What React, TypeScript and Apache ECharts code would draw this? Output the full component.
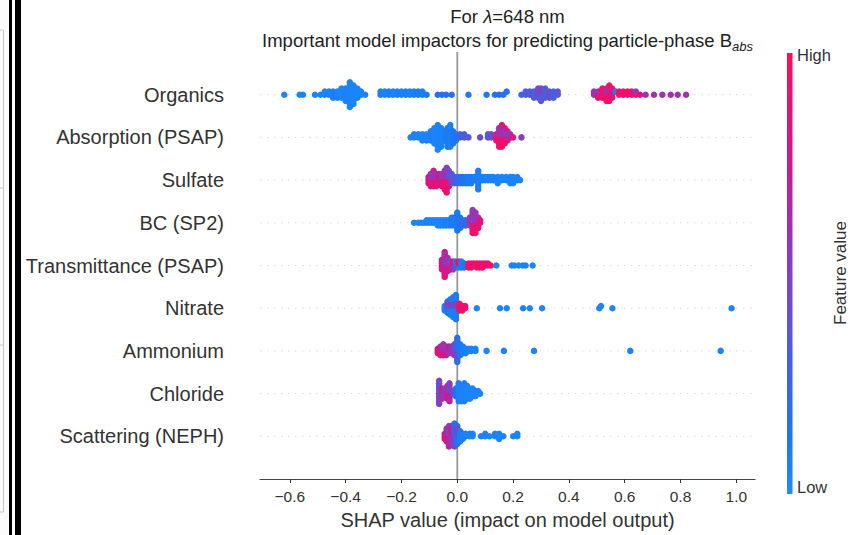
import { useEffect, useRef } from 'react';
import * as echarts from 'echarts';

// Feature names, top to bottom
const features = [
  'Organics',
  'Absorption (PSAP)',
  'Sulfate',
  'BC (SP2)',
  'Transmittance (PSAP)',
  'Nitrate',
  'Ammonium',
  'Chloride',
  'Scattering (NEPH)',
];

// Each entry: [SHAP value, normalised feature value (0 = low, 1 = high), number of points read at that spot]
const organics: number[][] = [
  [-0.62, 0.05, 1], [-0.565, 0.05, 1], [-0.553, 0.05, 1], [-0.51, 0.05, 1], [-0.49, 0.05, 1],
  [-0.475, 0.05, 2], [-0.46, 0.05, 2], [-0.445, 0.08, 3], [-0.43, 0.05, 3], [-0.415, 0.05, 4],
  [-0.4, 0.06, 5], [-0.385, 0.05, 9], [-0.372, 0.05, 7], [-0.358, 0.05, 4], [-0.345, 0.05, 2], [-0.33, 0.05, 1],
  [-0.275, 0.08, 2], [-0.26, 0.06, 2], [-0.245, 0.08, 2], [-0.23, 0.06, 2], [-0.215, 0.08, 2], [-0.2, 0.06, 2],
  [-0.185, 0.08, 2], [-0.17, 0.06, 2], [-0.155, 0.08, 2], [-0.14, 0.1, 2], [-0.125, 0.08, 2], [-0.11, 0.1, 1],
  [-0.07, 0.15, 1], [-0.055, 0.18, 1], [-0.04, 0.15, 1], [-0.02, 0.18, 1],
  [0.04, 0.12, 1], [0.105, 0.12, 1], [0.135, 0.15, 1], [0.15, 0.2, 1], [0.165, 0.15, 1], [0.177, 0.18, 1],
  [0.23, 0.25, 1], [0.245, 0.3, 2], [0.26, 0.35, 2], [0.275, 0.3, 3], [0.29, 0.4, 4], [0.3, 0.35, 3], [0.3, 0.5, 2],
  [0.315, 0.3, 4], [0.33, 0.4, 3], [0.345, 0.3, 3], [0.36, 0.35, 2],
  [0.49, 0.6, 2], [0.505, 0.9, 2], [0.505, 0.6, 1], [0.52, 0.95, 4], [0.535, 0.95, 3], [0.535, 0.6, 2],
  [0.545, 0.95, 5], [0.545, 0.7, 1], [0.555, 0.9, 3], [0.568, 0.1, 1], [0.58, 0.95, 2], [0.595, 0.9, 2],
  [0.61, 0.95, 2], [0.625, 0.85, 2], [0.64, 0.95, 1], [0.64, 0.6, 1], [0.655, 0.9, 1], [0.675, 0.6, 1],
  [0.705, 0.6, 1], [0.735, 0.6, 1], [0.765, 0.62, 1], [0.79, 0.6, 1], [0.82, 0.6, 1],
];

const absorption: number[][] = [
  [-0.167, 0.05, 1], [-0.155, 0.05, 2], [-0.14, 0.05, 2], [-0.125, 0.05, 3], [-0.11, 0.05, 3], [-0.095, 0.06, 4],
  [-0.082, 0.05, 6], [-0.07, 0.05, 9], [-0.058, 0.06, 7], [-0.045, 0.08, 4], [-0.035, 0.1, 7], [-0.025, 0.08, 8],
  [-0.015, 0.12, 5], [-0.005, 0.15, 3],
  [0.01, 0.3, 2], [0.025, 0.3, 2], [0.04, 0.35, 1], [0.082, 0.4, 1], [0.11, 0.35, 2], [0.122, 0.4, 2],
  [0.14, 0.9, 3], [0.15, 0.95, 4], [0.15, 0.6, 3], [0.16, 0.9, 5], [0.16, 0.6, 3], [0.17, 0.95, 4], [0.17, 0.55, 2],
  [0.18, 0.85, 3], [0.18, 0.5, 1], [0.19, 0.6, 2], [0.2, 0.9, 1], [0.23, 0.5, 1],
];

const sulfate: number[][] = [
  [-0.103, 0.75, 3], [-0.095, 0.9, 3], [-0.095, 0.6, 2], [-0.085, 0.85, 4], [-0.085, 0.55, 2], [-0.075, 0.9, 3],
  [-0.075, 0.6, 2], [-0.065, 0.8, 4], [-0.055, 0.85, 3], [-0.055, 0.55, 2], [-0.045, 0.9, 4], [-0.045, 0.6, 3],
  [-0.038, 0.95, 5], [-0.038, 0.55, 4], [-0.03, 0.85, 3], [-0.03, 0.45, 3], [-0.02, 0.5, 2], [-0.02, 0.3, 2],
  [-0.01, 0.35, 3],
  [0.0, 0.25, 3], [0.01, 0.2, 3], [0.02, 0.15, 3], [0.03, 0.12, 3], [0.04, 0.1, 3], [0.05, 0.1, 3], [0.06, 0.1, 2],
  [0.075, 0.08, 7], [0.09, 0.08, 2], [0.1, 0.08, 2], [0.11, 0.06, 2], [0.12, 0.06, 2], [0.13, 0.06, 2],
  [0.145, 0.05, 3], [0.16, 0.05, 2], [0.175, 0.05, 2], [0.19, 0.05, 3], [0.2, 0.05, 3], [0.215, 0.05, 2], [0.225, 0.05, 1],
];

const bcSp2: number[][] = [
  [-0.155, 0.05, 1], [-0.14, 0.05, 1], [-0.13, 0.05, 1], [-0.12, 0.05, 1], [-0.11, 0.05, 2], [-0.1, 0.05, 2],
  [-0.09, 0.05, 2], [-0.08, 0.05, 2], [-0.07, 0.05, 3], [-0.06, 0.06, 3], [-0.05, 0.05, 3], [-0.04, 0.08, 3],
  [-0.03, 0.06, 3], [-0.02, 0.1, 4], [-0.01, 0.1, 4], [0.0, 0.12, 8], [0.01, 0.15, 5], [0.02, 0.2, 3], [0.03, 0.25, 3],
  [0.045, 0.5, 4], [0.055, 0.9, 5], [0.055, 0.55, 5], [0.065, 0.95, 5], [0.065, 0.6, 4], [0.075, 0.85, 3],
  [0.075, 0.55, 2], [0.082, 0.9, 2],
];

const transmittance: number[][] = [
  [-0.055, 0.8, 6], [-0.045, 0.85, 8], [-0.045, 0.6, 6], [-0.035, 0.75, 5], [-0.035, 0.55, 3], [-0.025, 0.9, 3],
  [-0.025, 0.5, 2], [-0.015, 0.55, 3], [-0.015, 0.9, 2], [-0.005, 0.4, 2], [-0.005, 0.15, 2], [0.005, 0.1, 2],
  [0.005, 0.9, 2], [0.015, 0.1, 4], [0.025, 0.12, 3], [0.04, 0.95, 3], [0.05, 0.95, 3], [0.06, 0.9, 2],
  [0.07, 0.95, 3], [0.08, 0.95, 3], [0.09, 0.9, 3], [0.1, 0.95, 2], [0.11, 0.9, 2], [0.12, 0.95, 1],
  [0.14, 0.05, 1], [0.195, 0.05, 1], [0.205, 0.05, 1], [0.22, 0.05, 1], [0.235, 0.05, 1], [0.245, 0.05, 1], [0.27, 0.05, 1],
];

const nitrate: number[][] = [
  [-0.045, 0.1, 3], [-0.035, 0.15, 4], [-0.035, 0.45, 2], [-0.025, 0.1, 6], [-0.025, 0.5, 2], [-0.015, 0.08, 8],
  [-0.015, 0.4, 2], [-0.005, 0.1, 10], [-0.005, 0.5, 2], [0.008, 0.9, 4], [0.018, 0.95, 3], [0.028, 0.9, 2],
  [0.07, 0.05, 1], [0.153, 0.05, 1], [0.177, 0.05, 1], [0.236, 0.05, 1], [0.26, 0.05, 1], [0.304, 0.05, 1],
  [0.509, 0.05, 1], [0.515, 0.05, 1], [0.556, 0.05, 1], [0.983, 0.05, 1],
];

const ammonium: number[][] = [
  [-0.07, 0.85, 3], [-0.06, 0.9, 3], [-0.06, 0.7, 2], [-0.05, 0.85, 3], [-0.05, 0.6, 3], [-0.04, 0.75, 3],
  [-0.04, 0.55, 2], [-0.03, 0.6, 2], [-0.03, 0.8, 2], [-0.02, 0.55, 4], [-0.01, 0.5, 4], [-0.01, 0.35, 2],
  [0.0, 0.45, 5], [0.0, 0.2, 7], [0.01, 0.12, 6], [0.02, 0.1, 4], [0.03, 0.08, 3], [0.04, 0.06, 2], [0.05, 0.05, 2],
  [0.065, 0.05, 2], [0.105, 0.05, 1], [0.167, 0.05, 1], [0.275, 0.05, 1], [0.62, 0.05, 1], [0.944, 0.05, 1],
];

const chloride: number[][] = [
  [-0.065, 0.5, 6], [-0.065, 0.4, 4], [-0.055, 0.6, 3], [-0.055, 0.75, 2], [-0.045, 0.55, 4], [-0.035, 0.85, 4],
  [-0.035, 0.6, 2], [-0.028, 0.7, 4], [-0.028, 0.5, 4], [-0.015, 0.45, 2], [-0.005, 0.15, 4], [0.005, 0.08, 8],
  [0.015, 0.06, 7], [0.025, 0.06, 8], [0.035, 0.05, 6], [0.045, 0.05, 5], [0.055, 0.05, 4], [0.065, 0.05, 3],
  [0.075, 0.05, 2], [0.082, 0.05, 1],
];

const scattering: number[][] = [
  [-0.045, 0.9, 3], [-0.038, 0.85, 4], [-0.038, 0.6, 2], [-0.03, 0.7, 5], [-0.03, 0.5, 4], [-0.02, 0.55, 5],
  [-0.02, 0.8, 3], [-0.01, 0.45, 5], [-0.01, 0.2, 5], [0.0, 0.15, 5], [0.0, 0.45, 3], [0.01, 0.1, 5],
  [0.02, 0.08, 3], [0.03, 0.06, 2], [0.045, 0.05, 2], [0.055, 0.05, 2], [0.085, 0.05, 1], [0.1, 0.05, 2],
  [0.115, 0.05, 1], [0.135, 0.05, 2], [0.15, 0.05, 3], [0.165, 0.05, 1], [0.2, 0.05, 1], [0.215, 0.05, 2],
];

const featureData = [organics, absorption, sulfate, bcSp2, transmittance, nitrate, ammonium, chloride, scattering];

const xTicks = [-0.6, -0.4, -0.2, 0.0, 0.2, 0.4, 0.6, 0.8, 1.0];
const xMin = -0.707;
const xMax = 1.067;

// low -> high
const cmap = ['#1e8cff', '#1a78f2', '#3a66e4', '#5e54d4', '#8540c2', '#a52dae', '#c41c95', '#e4127a', '#ff0d57'];

const FONT = '"Liberation Sans", Arial, Helvetica, sans-serif';

// SHAP-style beeswarm layout (deterministic, derived from values)
function beeswarm(clusters: number[][], rowPos: number): number[][] {
  const pts: { s: number; f: number; k: number; ci: number; q: number }[] = [];
  clusters.forEach((c, ci) => {
    for (let k = 0; k < c[2]; k++) pts.push({ s: c[0], f: c[1], k, ci, q: 0 });
  });
  const vals = pts.map((p) => p.s);
  const mn = Math.min(...vals);
  const mx = Math.max(...vals);
  const nbins = 100;
  pts.forEach((p) => (p.q = Math.round((nbins * (p.s - mn)) / (mx - mn + 1e-8))));
  const order = pts
    .map((_, i) => i)
    .sort((a, b) => pts[a].q - pts[b].q || pts[a].k - pts[b].k || pts[a].ci - pts[b].ci);
  const ys = new Array(pts.length).fill(0);
  let layer = 0;
  let last = -1;
  for (const i of order) {
    if (pts[i].q !== last) layer = 0;
    ys[i] = Math.ceil(layer / 2) * ((layer % 2) * 2 - 1);
    layer++;
    last = pts[i].q;
  }
  const m = Math.max(...ys.map((y) => y + 1));
  const sc = 0.9 * (0.4 / m);
  return pts.map((p, i) => [p.s, rowPos + ys[i] * sc, p.f]);
}

export default function App() {
  const ref = useRef<HTMLDivElement>(null);

  useEffect(() => {
    if (!ref.current) return;
    const chart = echarts.init(ref.current, null, { renderer: 'svg' });
    const n = features.length;
    const points: number[][] = [];
    featureData.forEach((d, i) => {
      points.push(...beeswarm(d, n - 1 - i));
    });

    const rowLines = features.map((_, i) => ({
      type: 'line',
      data: [
        [xMin, i],
        [xMax, i],
      ],
      symbol: 'none',
      silent: true,
      z: 1,
      lineStyle: { color: '#cccccc', width: 0.8, type: [1.4, 5.6] },
    }));

    const option: any = {
      animation: false,
      backgroundColor: '#ffffff',
      grid: { left: 260, right: 95, top: 52, bottom: 51 },
      xAxis: {
        type: 'value',
        min: xMin,
        max: xMax,
        axisLine: { show: true, onZero: false, lineStyle: { color: '#444444', width: 1.2 } },
        axisTick: { show: true, length: 4, customValues: xTicks, lineStyle: { color: '#333333' } },
        axisLabel: {
          customValues: xTicks,
          margin: 9,
          color: '#333333',
          fontSize: 15.5,
          fontFamily: FONT,
          formatter: (v: number) => v.toFixed(1).replace('-', '\u2212'),
        },
        splitLine: { show: false },
        name: 'SHAP value (impact on model output)',
        nameLocation: 'middle',
        nameGap: 31,
        nameTextStyle: { color: '#333333', fontSize: 20, fontFamily: FONT },
      },
      yAxis: {
        type: 'value',
        min: -1,
        max: 9,
        interval: 1,
        axisLine: { show: false },
        axisTick: { show: false },
        splitLine: { show: false },
        axisLabel: {
          margin: 36,
          color: '#333333',
          fontSize: 20,
          fontFamily: FONT,
          formatter: (v: number) => (v >= 0 && v <= n - 1 ? features[n - 1 - v] : ''),
        },
      },
      visualMap: {
        show: false,
        type: 'continuous',
        seriesIndex: 0,
        dimension: 2,
        min: 0,
        max: 1,
        inRange: { color: cmap },
      },
      series: [
        {
          type: 'scatter',
          data: points,
          symbolSize: 6.5,
          z: 3,
          itemStyle: { opacity: 1 },
        },
        {
          type: 'line',
          data: [
            [0, -1],
            [0, 9],
          ],
          symbol: 'none',
          silent: true,
          z: 2,
          lineStyle: { color: '#999999', width: 1.8 },
        },
        ...rowLines,
      ],
      graphic: [
        // left-edge frame artefacts
        { type: 'rect', shape: { x: 0, y: 0, width: 8, height: 535 }, style: { fill: '#fbfbfb' }, silent: true },
        { type: 'line', shape: { x1: 3.5, y1: 30, x2: 3.5, y2: 512 }, style: { stroke: '#c8c8c8', lineWidth: 1 }, silent: true },
        { type: 'line', shape: { x1: 0, y1: 30, x2: 3.5, y2: 30 }, style: { stroke: '#c8c8c8', lineWidth: 1 }, silent: true },
        { type: 'line', shape: { x1: 0, y1: 188, x2: 3.5, y2: 188 }, style: { stroke: '#c8c8c8', lineWidth: 1 }, silent: true },
        { type: 'line', shape: { x1: 0, y1: 345, x2: 3.5, y2: 345 }, style: { stroke: '#c8c8c8', lineWidth: 1 }, silent: true },
        { type: 'line', shape: { x1: 0, y1: 512, x2: 3.5, y2: 512 }, style: { stroke: '#c8c8c8', lineWidth: 1 }, silent: true },
        { type: 'rect', shape: { x: 9, y: 0, width: 3, height: 535 }, style: { fill: '#000000' }, silent: true },
        { type: 'rect', shape: { x: 15, y: 0, width: 6, height: 535 }, style: { fill: '#000000' }, silent: true },
        // title
        {
          type: 'text',
          x: 507.5,
          y: 16,
          style: {
            text: '{n|For }{i|λ}{n|=648 nm}',
            align: 'center',
            verticalAlign: 'middle',
            rich: {
              n: { fontSize: 18.5, fontFamily: FONT, fill: '#222222' },
              i: { fontSize: 18.5, fontFamily: FONT, fontStyle: 'italic', fill: '#222222' },
            },
          },
        },
        {
          type: 'text',
          x: 507.5,
          y: 40,
          style: {
            text: '{n|Important model impactors for predicting particle-phase B}{s|abs}',
            align: 'center',
            verticalAlign: 'middle',
            rich: {
              n: { fontSize: 18.5, fontFamily: FONT, fill: '#222222', lineHeight: 19 },
              s: { fontSize: 13, fontFamily: FONT, fontStyle: 'italic', fill: '#222222', lineHeight: 25, verticalAlign: 'bottom' },
            },
          },
        },
        // colour bar
        {
          type: 'rect',
          shape: { x: 787, y: 53, width: 5.5, height: 441 },
          style: {
            fill: new echarts.graphic.LinearGradient(
              0,
              0,
              0,
              1,
              cmap
                .slice()
                .reverse()
                .map((c, i) => ({ offset: i / (cmap.length - 1), color: c }))
            ),
          },
          silent: true,
        },
        {
          type: 'text',
          x: 797,
          y: 55,
          style: { text: 'High', fontSize: 16.5, fontFamily: FONT, fill: '#333333', verticalAlign: 'middle', align: 'left' },
        },
        {
          type: 'text',
          x: 797,
          y: 487,
          style: { text: 'Low', fontSize: 16.5, fontFamily: FONT, fill: '#333333', verticalAlign: 'middle', align: 'left' },
        },
        {
          type: 'text',
          x: 840,
          y: 273,
          rotation: Math.PI / 2,
          style: { text: 'Feature value', fontSize: 17, fontFamily: FONT, fill: '#333333', verticalAlign: 'middle', align: 'center' },
        },
      ],
    };
    chart.setOption(option);
    return () => chart.dispose();
  }, []);

  return <div ref={ref} style={{ position: 'fixed', left: 0, top: 0, width: 850, height: 535 }} />;
}
